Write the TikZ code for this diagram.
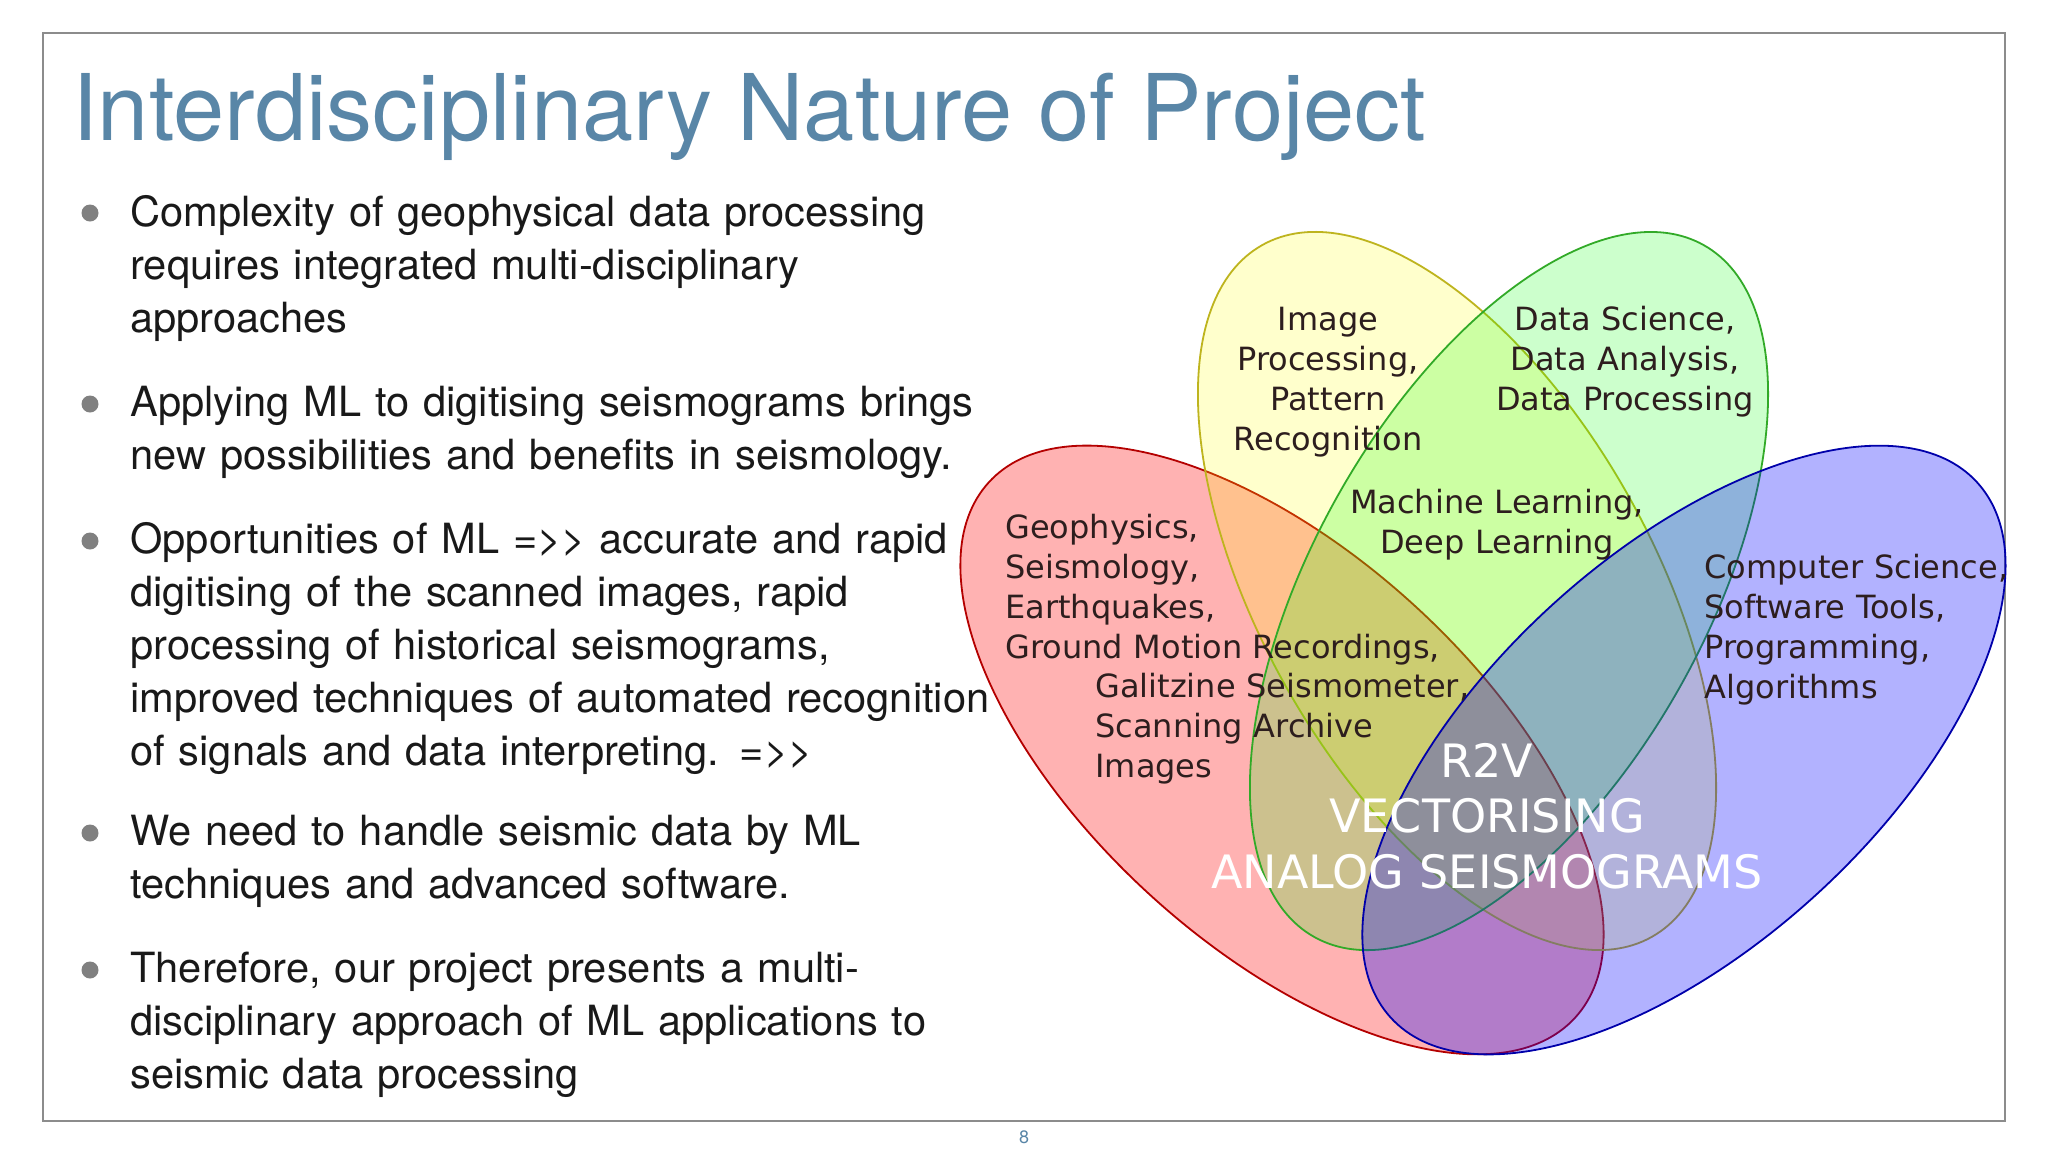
\documentclass[tikz,border=0pt]{standalone}
\usepackage{fontspec}
\setmainfont{TeX Gyre Heros}
\newfontfamily\vennfont{DejaVu Sans}
\definecolor{titleblue}{RGB}{89,134,167}
\definecolor{bodytext}{RGB}{25,25,25}
\definecolor{venntext}{RGB}{45,30,30}
\definecolor{bulletgray}{RGB}{128,128,128}
\definecolor{framegray}{RGB}{140,140,140}
\definecolor{vred}{RGB}{255,0,0}
\definecolor{vyellow}{RGB}{255,255,0}
\definecolor{vgreen}{RGB}{0,255,0}
\definecolor{vblue}{RGB}{0,0,255}
\definecolor{ered}{RGB}{180,0,0}
\definecolor{eyellow}{RGB}{190,180,30}
\definecolor{egreen}{RGB}{50,170,40}
\definecolor{eblue}{RGB}{0,0,170}
\begin{document}
\begin{tikzpicture}[x=0.5pt,y=-0.5pt,
    bullettext/.style={anchor=base west, inner sep=0pt, text width=470pt, align=left,
        font=\fontsize{20.8}{26.5}\selectfont, text=bodytext},
    vlabel/.style={inner sep=0pt, text width=240pt, align=center, anchor=base,
        font=\vennfont\fontsize{16}{20}\selectfont, text=venntext},
    vlabelleft/.style={vlabel, align=left, anchor=base west}]
        % Page and frame
        \fill[white] (0,0) rectangle (2048,1152);
        \useasboundingbox (0,0) rectangle (2048,1152);
        \draw[framegray, line width=1pt] (43,33) rectangle (2005,1121);

        % Title
        \node[anchor=base west, inner sep=0pt, text=titleblue,
            font=\fontsize{46}{50}\selectfont] (title) at (72,140)
            {Interdisciplinary Nature of Project};

        % Bullet points
        \foreach \y in {213,404,541,833,970} {
                \fill[bulletgray] (90,\y) circle [radius=4.25pt];
            }
        \node[bullettext] (b1) at (130,226) {Complexity of geophysical data processing\\
            requires integrated multi-disciplinary\\approaches};
        \node[bullettext] (b2) at (130,416) {Applying ML to digitising seismograms brings\\
            new possibilities and benefits in seismology.};
        \node[bullettext] (b3) at (130,553) {Opportunities of ML =>\kern0pt> accurate and rapid\\
            digitising of the scanned images, rapid\\
            processing of historical seismograms,\\
            improved techniques of automated recognition\\
            of signals and data interpreting. =>\kern0pt>};
        \node[bullettext] (b4) at (130,845) {We need to handle seismic data by ML\\
            techniques and advanced software.};
        \node[bullettext] (b5) at (130,982) {Therefore, our project presents a multi-\\
            disciplinary approach of ML applications to\\
            seismic data processing};

        % Define centres of the four sets
        \coordinate (geo) at (1282,750);
        \coordinate (img) at (1457,591);
        \coordinate (dat) at (1509,591);
        \coordinate (cmp) at (1684,750);

        % Draw the ellipses
        \foreach \c/\ang/\col/\op in {geo/-42.4/red/0.3, img/-60.6/yellow/0.2,
                dat/60.6/green/0.2, cmp/42.4/blue/0.3} {
                \filldraw[fill=v\col, fill opacity=\op, draw=e\col, line width=0.9pt,
                    rotate around={\ang:(\c)}] (\c) ellipse [x radius=198.5pt, y radius=98pt];
            }

        % Add labels
        \node[vlabel] (imgl) at (1328,330) {Image\\Processing,\\Pattern\\Recognition};
        \node[vlabel] (datl) at (1625,330) {Data Science,\\Data Analysis,\\Data Processing};
        \node[vlabel] (mll) at (1497,513) {Machine Learning,\\Deep Learning};
        \node[vlabelleft] (geol) at (1005,538) {Geophysics,\\Seismology,\\Earthquakes,\\Ground Motion Recordings,};
        \node[vlabelleft] (gall) at (1095,697) {Galitzine Seismometer,\\Scanning Archive\\Images};
        \node[vlabelleft] (cmpl) at (1704,578) {Computer Science,\\Software Tools,\\Programming,\\Algorithms};
        \node[vlabel, text=white, text width=320pt, font=\vennfont\fontsize{23}{27.75}\selectfont]
            (r2v) at (1487,777) {R2V\\VECTORISING\\ANALOG SEISMOGRAMS};

        % Page number
        \node[text=titleblue, font=\fontsize{9}{10}\selectfont] (pagenum) at (1024,1137) {8};
    \end{tikzpicture}
\end{document}
